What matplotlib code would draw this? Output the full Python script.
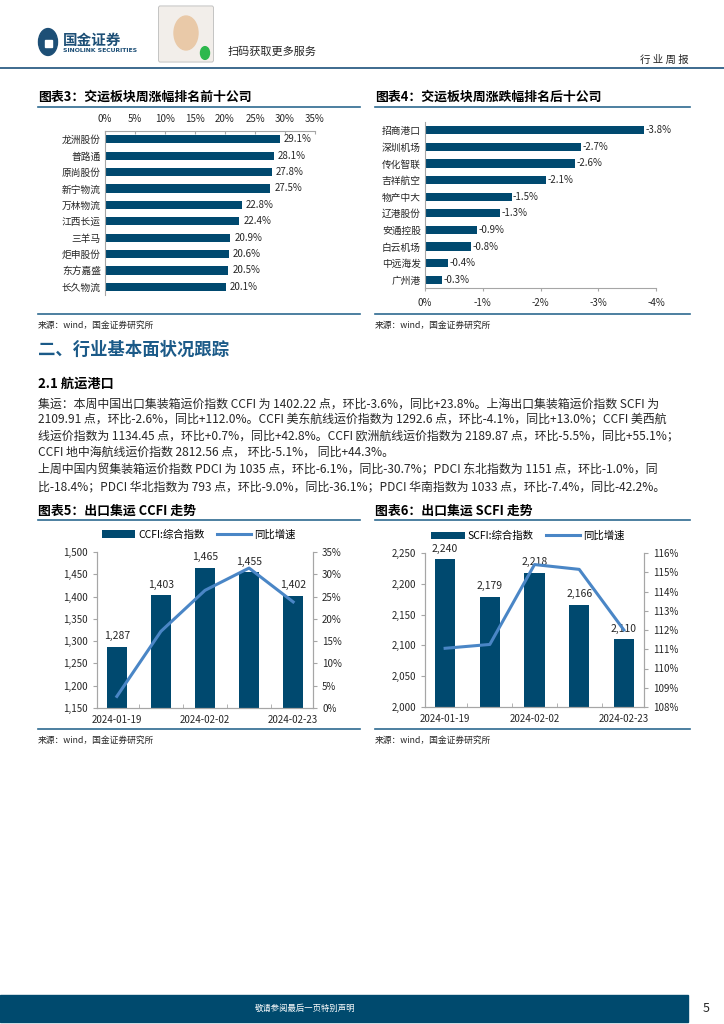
import matplotlib
matplotlib.use('Agg')
from matplotlib import pyplot as plt
from matplotlib.patches import Rectangle, Circle, FancyBboxPatch
from matplotlib.lines import Line2D
from matplotlib.ticker import FuncFormatter

plt.rcParams['font.family'] = ['Noto Sans CJK SC', 'DejaVu Sans']
plt.rcParams['axes.unicode_minus'] = False

# --- data ---
top_names = ['龙洲股份', '普路通', '原尚股份', '新宁物流', '万林物流',
             '江西长运', '三羊马', '炬申股份', '东方嘉盛', '长久物流']
top_pct = [29.1, 28.1, 27.8, 27.5, 22.8, 22.4, 20.9, 20.6, 20.5, 20.1]

low_names = ['招商港口', '深圳机场', '传化智联', '吉祥航空', '物产中大',
             '辽港股份', '安通控股', '白云机场', '中远海发', '广州港']
low_pct = [-3.8, -2.7, -2.6, -2.1, -1.5, -1.3, -0.9, -0.8, -0.4, -0.3]

weeks = ['2024-01-19', '2024-01-26', '2024-02-02', '2024-02-09', '2024-02-23']
week_labels = ['2024-01-19', '', '2024-02-02', '', '2024-02-23']
ccfi = [1287, 1403, 1465, 1455, 1402]
ccfi_yoy = [2.6, 17.2, 26.4, 31.4, 23.8]
scfi = [2240, 2179, 2218, 2166, 2110]
scfi_yoy = [111.05, 111.25, 115.4, 115.15, 112.0]

body_lines = [
    '集运：本周中国出口集装箱运价指数 CCFI 为 1402.22 点，环比-3.6%，同比+23.8%。上海出口集装箱运价指数 SCFI 为',
    '2109.91 点，环比-2.6%，同比+112.0%。CCFI 美东航线运价指数为 1292.6 点，环比-4.1%，同比+13.0%；CCFI 美西航',
    '线运价指数为 1134.45 点，环比+0.7%，同比+42.8%。CCFI 欧洲航线运价指数为 2189.87 点，环比-5.5%，同比+55.1%；',
    'CCFI 地中海航线运价指数 2812.56 点， 环比-5.1%， 同比+44.3%。',
    '上周中国内贸集装箱运价指数 PDCI 为 1035 点，环比-6.1%，同比-30.7%；PDCI 东北指数为 1151 点，环比-1.0%，同',
    '比-18.4%；PDCI 华北指数为 793 点，环比-9.0%，同比-36.1%；PDCI 华南指数为 1033 点，环比-7.4%，同比-42.2%。',
]

W, H = 724, 1024
bar_c = '#00496F'
line_c = '#4A86C6'
rule_c = '#2E6A90'
grey = '#A6A6A6'
txt = '#262626'

fig = plt.figure(figsize=(7.24, 10.24), dpi=100)


def px_axes(x0, y0, x1, y1):
    return fig.add_axes([x0 / W, 1 - y1 / H, (x1 - x0) / W, (y1 - y0) / H])


def ftext(x, y, s, **kw):
    return fig.text(x / W, 1 - y / H, s, **kw)


def hline(x0, x1, y, color=rule_c, lw=1.2):
    fig.add_artist(Line2D([x0 / W, x1 / W], [1 - y / H, 1 - y / H], color=color, lw=lw))


# --- page header ---
fig.add_artist(Circle((48 / W, 1 - 42 / H), 9.5 / W, color='#1D4F76', transform=fig.transFigure))
fig.add_artist(Rectangle((44.5 / W, 1 - 47 / H), 7 / W, 7 / H, color='white', transform=fig.transFigure))
ftext(63, 40, '国金证券', fontsize=10.5, weight='bold', color='#1D4F76', va='center')
ftext(63, 51, 'SINOLINK SECURITIES', fontsize=4.4, weight='bold', color='#1D4F76', va='center',
      family='DejaVu Sans')
fig.add_artist(FancyBboxPatch((160 / W, 1 - 60 / H), 52 / W, 52 / H, boxstyle='round,pad=0.002',
                              fc='#F2EEEA', ec='#BBBBBB', lw=0.6, transform=fig.transFigure))
fig.add_artist(Circle((186 / W, 1 - 33 / H), 12 / W, color='#E9C9A8', transform=fig.transFigure))
fig.add_artist(Circle((205 / W, 1 - 53 / H), 4.5 / W, color='#2DB84D', transform=fig.transFigure))
ftext(228, 52, '扫码获取更多服务', fontsize=8, color=txt, va='center')
ftext(689, 60, '行 业 周 报', fontsize=7.5, color=txt, va='center', ha='right')
hline(0, W, 68, color='#2E5F86', lw=1.3)

# --- chart 3 ---
ftext(38, 97, '图表3：交运板块周涨幅排名前十公司', fontsize=9.3, weight='bold', color='black', va='center')
hline(38, 360, 107)
ax3 = px_axes(105, 131, 315, 295)
ax3.barh(range(len(top_pct)), top_pct, height=0.5, color=bar_c)
ax3.set_xlim(0, 35)
ax3.set_ylim(len(top_pct) - 0.5, -0.5)
ax3.set_yticks(range(len(top_names)))
ax3.set_yticklabels(top_names)
ax3.set_xticks(range(0, 40, 5))
ax3.xaxis.set_major_formatter(FuncFormatter(lambda v, p: f'{v:.0f}%'))
ax3.xaxis.tick_top()
ax3.tick_params(axis='x', labelsize=7, colors=txt, direction='in', length=2, pad=5, color=grey)
ax3.tick_params(axis='y', labelsize=7, colors=txt, length=0, pad=3)
for s in ['right', 'bottom']:
    ax3.spines[s].set_visible(False)
for s in ['top', 'left']:
    ax3.spines[s].set_color(grey)
    ax3.spines[s].set_linewidth(0.8)
for i, v in enumerate(top_pct):
    ax3.annotate(f'{v:.1f}%', (v, i), xytext=(3, 0), textcoords='offset points',
                 va='center', ha='left', fontsize=7, color=txt)
hline(38, 360, 314)
ftext(38, 325, '来源：wind，国金证券研究所', fontsize=6.3, color=txt, va='center')

# --- chart 4 ---
ftext(375, 97, '图表4：交运板块周涨跌幅排名后十公司', fontsize=9.3, weight='bold', color='black', va='center')
hline(375, 690, 107)
ax4 = px_axes(425, 122, 656, 288)
ax4.barh(range(len(low_pct)), low_pct, height=0.5, color=bar_c)
ax4.set_xlim(0, -4)
ax4.set_ylim(len(low_pct) - 0.5, -0.5)
ax4.set_yticks(range(len(low_names)))
ax4.set_yticklabels(low_names)
ax4.set_xticks([0, -1, -2, -3, -4])
ax4.xaxis.set_major_formatter(FuncFormatter(lambda v, p: f'{v:.0f}%'))
ax4.tick_params(axis='x', labelsize=7, colors=txt, direction='out', length=2, pad=5, color=grey)
ax4.tick_params(axis='y', labelsize=7, colors=txt, length=0, pad=3)
for s in ['right', 'top']:
    ax4.spines[s].set_visible(False)
for s in ['bottom', 'left']:
    ax4.spines[s].set_color(grey)
    ax4.spines[s].set_linewidth(0.8)
for i, v in enumerate(low_pct):
    ax4.annotate(f'{v:.1f}%', (v, i), xytext=(1, 0), textcoords='offset points',
                 va='center', ha='left', fontsize=7, color=txt)
hline(375, 690, 314)
ftext(375, 325, '来源：wind，国金证券研究所', fontsize=6.3, color=txt, va='center')

# --- text section ---
ftext(38, 350, '二、行业基本面状况跟踪', fontsize=12.5, weight='bold', color='#1B5A88', va='center')
ftext(38, 384, '2.1 航运港口', fontsize=9.5, weight='bold', color='black', va='center')
ys = [404, 420, 436, 452, 470, 487]
for y, line in zip(ys, body_lines):
    ftext(38, y, line, fontsize=8.6, color=txt, va='center')


# --- chart 5 / 6 ---
def combo(box, bars, yoy, bar_name, ylims, yticks, rlims, rticks, rfmt, title, tx, line_x0, line_x1):
    ftext(tx, 511, title, fontsize=9.3, weight='bold', color='black', va='center')
    hline(line_x0, line_x1, 520)
    ax = px_axes(*box)
    x = range(len(bars))
    b = ax.bar(x, bars, width=0.45, color=bar_c, label=bar_name)
    ax.set_xlim(-0.45, len(bars) - 0.55)
    ax.set_ylim(*ylims)
    ax.set_yticks(yticks)
    ax.yaxis.set_major_formatter(FuncFormatter(lambda v, p: f'{v:,.0f}'))
    ax.set_xticks(list(x))
    ax.set_xticklabels(week_labels)
    ax.set_xticks([i + 0.5 for i in range(len(bars) - 1)], minor=True)
    ax.tick_params(axis='x', which='major', length=0, labelsize=7, colors=txt, pad=5)
    ax.tick_params(axis='x', which='minor', length=3, direction='in', color=grey)
    ax.tick_params(axis='y', labelsize=7, colors=txt, direction='out', length=3, color=grey)
    for i, v in enumerate(bars):
        ax.annotate(f'{v:,.0f}', (i, v), xytext=(0, 4), textcoords='offset points',
                    ha='center', va='bottom', fontsize=7.5, color=txt)
    ax2 = ax.twinx()
    ln, = ax2.plot(x, yoy, color=line_c, lw=2.2, label='同比增速')
    ax2.set_ylim(*rlims)
    ax2.set_yticks(rticks)
    ax2.yaxis.set_major_formatter(FuncFormatter(rfmt))
    ax2.tick_params(axis='y', labelsize=7, colors=txt, direction='out', length=3, color=grey)
    for a in (ax, ax2):
        a.spines['top'].set_visible(False)
        for s in ['left', 'right', 'bottom']:
            a.spines[s].set_color(grey)
            a.spines[s].set_linewidth(0.8)
    ax.legend([b, ln], [bar_name, '同比增速'], loc='lower center', bbox_to_anchor=(0.47, 1.05),
              ncol=2, frameon=False, fontsize=7.5, handlelength=3.2, handleheight=0.8,
              columnspacing=1.2, handletextpad=0.3, borderaxespad=0)
    hline(line_x0, line_x1, 729)
    ftext(tx, 740, '来源：wind，国金证券研究所', fontsize=6.3, color=txt, va='center')


combo((97, 552, 313, 708), ccfi, ccfi_yoy, 'CCFI:综合指数', (1150, 1500), range(1150, 1501, 50),
      (0, 35), range(0, 36, 5), lambda v, p: f'{v:.0f}%', '图表5：出口集运 CCFI 走势', 38, 38, 360)
combo((425, 553, 644, 707), scfi, scfi_yoy, 'SCFI:综合指数', (2000, 2250), range(2000, 2251, 50),
      (108, 116), range(108, 117), lambda v, p: f'{v:.0f}%', '图表6：出口集运 SCFI 走势', 375, 375, 690)

# --- footer ---
fig.add_artist(Rectangle((0, 1 - 1022 / H), 688 / W, 27 / H, color='#004A6E', transform=fig.transFigure))
ftext(305, 1008, '敬请参阅最后一页特别声明', fontsize=6, color='white', va='center', ha='center')
ftext(706, 1008, '5', fontsize=9, color=txt, va='center', ha='center')

plt.savefig('out.png', dpi=100)
